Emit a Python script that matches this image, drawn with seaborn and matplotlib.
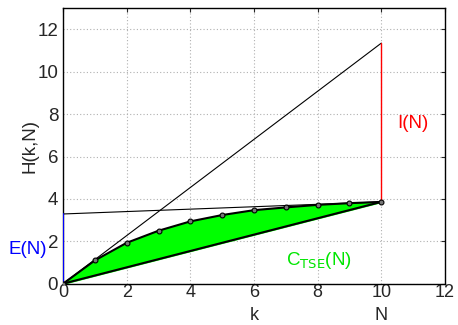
import numpy as np
import pandas as pd
import seaborn as sns
import matplotlib
matplotlib.use("Agg")
import matplotlib.pyplot as plt

k = [0, 1, 2, 3, 4, 5, 6, 7, 8, 9, 10]
H = [0, 1.1, 1.93, 2.5, 2.94, 3.24, 3.47, 3.6, 3.72, 3.8, 3.86]
N = 10
I_top = 11.35
E_val = 3.29
xticks = [0, 2, 4, 6, 8, 10, 12]
yticks = [0, 2, 4, 6, 8, 10, 12]

sns.set_style("white")
plt.rcParams['font.family'] = ['Liberation Sans', 'DejaVu Sans']
FS = 13.5
FS2 = 13

fig = plt.figure(figsize=(4.58, 3.25), dpi=100)
ax = fig.add_axes([0.1376, 0.127, 0.834, 0.848])

df = pd.DataFrame({"k": k, "H": H})
lin = [H[-1] * x / N for x in k]

ax.fill_between(k, lin, H, color=(0, 1, 0), zorder=2)
ax.plot([0, N], [0, H[-1]], color="black", lw=1.5, zorder=3)
ax.plot([0, N], [0, I_top], color="black", lw=0.8, zorder=3)
ax.plot([0, N], [E_val, H[-1]], color="black", lw=0.8, zorder=3)
ax.plot([N, N], [H[-1], I_top], color="red", lw=1.0, zorder=3)
ax.plot([0, 0], [0, E_val], color="blue", lw=1.5, zorder=4)
sns.lineplot(data=df, x="k", y="H", ax=ax, color="black", lw=1.5,
             marker="o", markersize=3.5, markerfacecolor="#777777",
             markeredgecolor="black", markeredgewidth=0.8, zorder=5)

ax.set_xlim(0, 12)
ax.set_ylim(0, 13)
ax.set_xticks(xticks)
ax.set_yticks(yticks)
ax.tick_params(direction="in", top=True, right=True, labelsize=FS,
               length=3, width=0.8)
ax.tick_params(axis="x", pad=0.5, labelsize=FS2)
ax.tick_params(axis="y", pad=3.5)
ax.grid(True, color="#b0b0b0", linestyle=(0, (1, 2)), lw=0.8)
for s in ax.spines.values():
    s.set_color("black")
    s.set_linewidth(1.0)

ax.set_xlabel("k", fontsize=FS2, va="bottom")
ax.xaxis.set_label_coords(0.5, -0.146)
ax.set_ylabel("H(k,N)", fontsize=FS)
ax.yaxis.set_label_coords(-0.065, 0.5)

ax.annotate("N", xy=(N, 0), xycoords=("data", "axes fraction"),
            xytext=(N, -0.146), textcoords=("data", "axes fraction"),
            ha="center", va="bottom", fontsize=FS2, annotation_clip=False)
ax.text(10.5, 7.55, "I(N)", color="red", fontsize=FS, va="center")
ax.text(-0.5, 1.6, "E(N)", color="blue", fontsize=FS, va="center", ha="right")
ax.text(7.0, 1.1, r"C$_{\mathrm{TSE}}$(N)", color=(0, 0.9, 0), fontsize=FS, va="center")

fig.savefig("out.png", dpi=100)
